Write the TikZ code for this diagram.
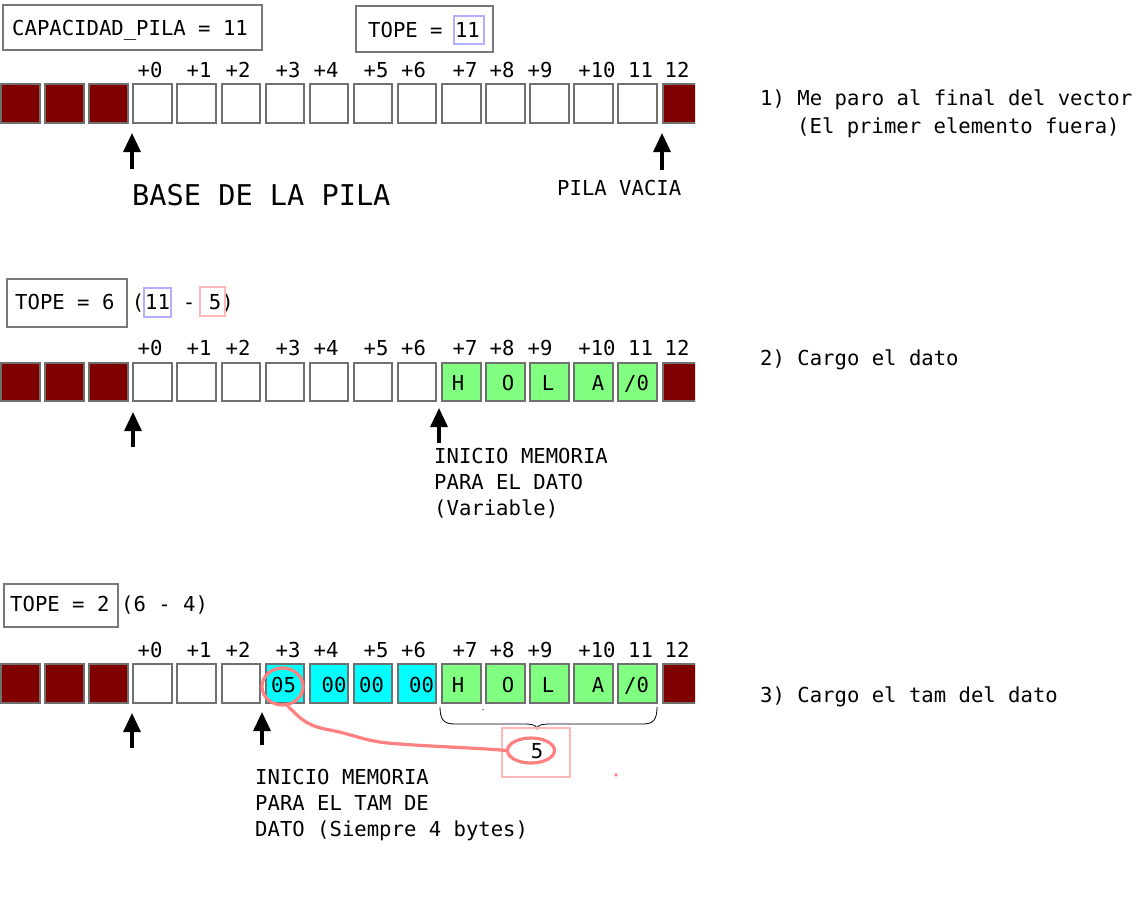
\documentclass[tikz,border=0pt]{standalone}
\usepackage{fontspec}
\newfontfamily\mono{DejaVu Sans Mono}
\usetikzlibrary{arrows.meta,shapes.geometric}
\definecolor{cellgray}{RGB}{112,112,112}
\definecolor{boxgray}{RGB}{120,120,120}
\definecolor{darkred}{RGB}{128,0,0}
\definecolor{lgreen}{RGB}{128,255,128}
\definecolor{cyanc}{RGB}{0,255,255}
\definecolor{boxblue}{RGB}{176,176,255}
\definecolor{boxpink}{RGB}{255,184,184}
\definecolor{redpen}{RGB}{255,128,128}
\begin{document}
\begin{tikzpicture}[x=1pt,y=-1pt,
  txt/.style={font=\mono\fontsize{20.6}{26}\selectfont, inner sep=0pt, anchor=base west},
  lbl/.style={font=\mono\fontsize{20.6}{26}\selectfont, inner sep=0pt, anchor=base},
  para/.style={font=\mono\fontsize{20.6}{26}\selectfont, inner sep=0pt, anchor=north west, align=left},
  cell/.style={draw=cellgray, line width=2pt, minimum width=38.5pt, minimum height=38.7pt, inner sep=0pt},
  frame/.style={draw=boxgray, line width=2pt},
  arr/.style={line width=3.2pt, -{Triangle[length=19pt,width=17pt]}},
  pen/.style={draw=redpen, line width=3.2pt},
]
\useasboundingbox (0,0) rectangle (1148,902);
\fill[white] (0,0) rectangle (1148,902);

% ---------- cells ----------
\begin{scope}
\clip (0,0) rectangle (695,902);
\foreach \i/\f in {0/darkred,1/darkred,2/darkred,3/white,4/white,5/white,6/white,7/white,8/white,9/white,10/white,11/white,12/white,13/white,14/white,15/darkred}{
  \node[cell, fill=\f] (ra\i) at ({44.1*\i+20.25},103.7) {};
}
\foreach \i/\f in {0/darkred,1/darkred,2/darkred,3/white,4/white,5/white,6/white,7/white,8/white,9/white,10/lgreen,11/lgreen,12/lgreen,13/lgreen,14/lgreen,15/darkred}{
  \node[cell, fill=\f] (rb\i) at ({44.1*\i+20.25},382) {};
}
\foreach \i/\f in {0/darkred,1/darkred,2/darkred,3/white,4/white,5/white,6/cyanc,7/cyanc,8/cyanc,9/cyanc,10/lgreen,11/lgreen,12/lgreen,13/lgreen,14/lgreen,15/darkred}{
  \node[cell, fill=\f] (rc\i) at ({44.1*\i+20.25},683.5) {};
}
\end{scope}

% ---------- index labels ----------
\foreach \t/\x [count=\k] in {+0/150,+1/199,+2/238,+3/288,+4/326,+5/376,+6/413.5,+7/465,+8/502,+9/540,+10/597,11/640.5,12/677}{
  \node[lbl] (la\k) at (\x,77) {\t};
  \node[lbl] (lb\k) at (\x,355) {\t};
  \node[lbl] (lc\k) at (\x,657) {\t};
}

% ---------- step 1 ----------
\draw[frame] (3,5) rectangle (262,50);
\node[txt] (cap) at (12,35) {CAPACIDAD\_PILA = 11};
\draw[frame] (356,6) rectangle (493,52);
\node[txt] (tope1) at (368,37) {TOPE = 11};
\draw[draw=boxblue, line width=1.5pt] (454,16) rectangle (484,44);

\coordinate (a1s) at (132,169); \coordinate (a1e) at (132,133);
\draw[arr] (a1s) -- (a1e);
\coordinate (a2s) at (662,170); \coordinate (a2e) at (662,133);
\draw[arr] (a2s) -- (a2e);
\node[txt, font=\mono\fontsize{28.6}{34}\selectfont] (base) at (132,205) {BASE DE LA PILA};
\node[txt] (vacia) at (557,195) {PILA VACIA};
\node[txt] (s1a) at (760,105) {1) Me paro al final del vector};
\node[txt] (s1b) at (797,133) {(El primer elemento fuera)};

% ---------- step 2 ----------
\draw[frame] (7,279) rectangle (127,327);
\node[txt] (tope2) at (15,309) {TOPE = 6};
\node[lbl] (p2a) at (138,309) {(};
\node[lbl] (p2b) at (157.5,309) {11};
\node[lbl] (p2c) at (189,309) {-};
\node[lbl] (p2d) at (215,309) {5};
\node[lbl] (p2e) at (227.5,309) {)};
\draw[draw=boxblue, line width=1.5pt] (144,288) rectangle (171,317);
\draw[draw=boxpink, line width=1.5pt] (200,287) rectangle (225,316);

\foreach \t/\x [count=\k] in {H/458,O/508,L/548,A/598,{/0}/636.5}{
  \node[lbl] (hb\k) at (\x,390) {\t};
}
\coordinate (b1s) at (133,447); \coordinate (b1e) at (133,412);
\draw[arr] (b1s) -- (b1e);
\coordinate (b2s) at (439,443); \coordinate (b2e) at (439,408);
\draw[arr] (b2s) -- (b2e);
\node[para] (ini2) at (434,448) {INICIO MEMORIA\\PARA EL DATO\\(Variable)};
\node[txt] (s2) at (760,365) {2) Cargo el dato};

% ---------- step 3 ----------
\draw[frame] (4,584) rectangle (118,627);
\node[txt] (tope3) at (10,611) {TOPE = 2};
\node[txt] (calc3) at (121,611) {(6 - 4)};

\foreach \t/\x [count=\k] in {05/283.5,00/334,00/371.5,00/421.5,H/458,O/508,L/548,A/598,{/0}/636.5}{
  \node[lbl] (hc\k) at (\x,692) {\t};
}
\coordinate (c1s) at (132,748); \coordinate (c1e) at (132,713);
\draw[arr] (c1s) -- (c1e);
\coordinate (c2s) at (262,745); \coordinate (c2e) at (262,712);
\draw[arr] (c2s) -- (c2e);
\node[para] (ini3) at (255,769) {INICIO MEMORIA\\PARA EL TAM DE\\DATO (Siempre 4 bytes)};
\node[txt] (s3) at (760,702) {3) Cargo el tam del dato};

% brace under the data
\coordinate (brL) at (440,707);
\coordinate (brR) at (657,707);
\draw[black, line width=0.8pt] (brL) .. controls (440,720) and (444,724) .. (455,724)
  -- (524,724) .. controls (532,724) and (537,725) .. (537,729)
  .. controls (537,725) and (542,724) .. (550,724)
  -- (643,724) .. controls (653,724) and (657,720) .. (brR);
\fill[black] (483,709.5) circle (0.7pt);

% size box
\draw[draw=boxpink, line width=1.5pt] (502,728) rectangle (570,777);
\node[lbl] (five) at (537,758) {5};

% red pen marks
\node[pen, ellipse, minimum width=41pt, minimum height=37pt, inner sep=0pt] (o05) at (282.5,686.5) {};
\node[pen, ellipse, minimum width=47pt, minimum height=25pt, inner sep=0pt] (o5) at (531,750.5) {};
\draw[redpen, line width=3.2pt, line cap=round] (o05.-75) .. controls (300,718) and (306,726) .. (330,730)
  .. controls (360,736) and (365,742) .. (400,744)
  .. controls (440,747) and (480,748) .. (o5.west);
\fill[redpen] (616,775) circle (1.8pt);
\end{tikzpicture}
\end{document}
